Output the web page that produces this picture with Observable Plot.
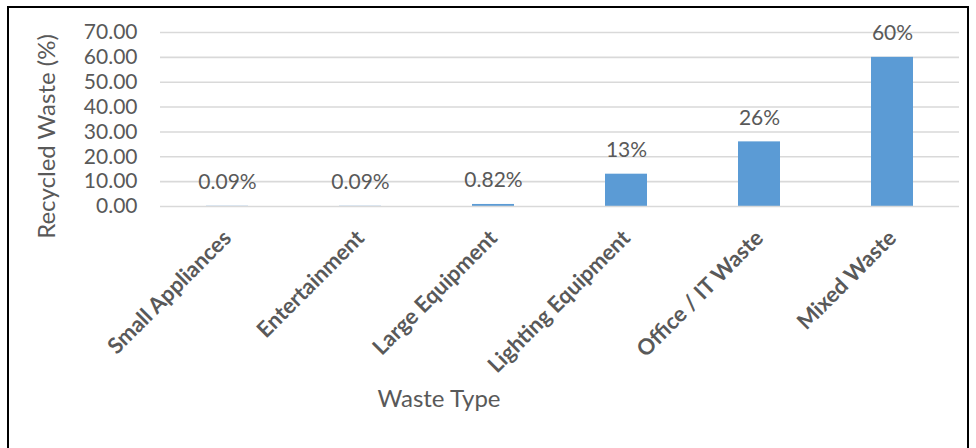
<!DOCTYPE html>
<html>
<head>
<meta charset="utf-8">
<script src="https://cdn.jsdelivr.net/npm/d3@7"></script>
<script src="https://cdn.jsdelivr.net/npm/@observablehq/plot@0.6"></script>
<style>
  html, body { margin: 0; padding: 0; background: #fff; }
  #wrap { position: relative; width: 976px; height: 448px; overflow: hidden; }
  #border {
    position: absolute; left: 7px; top: 6px; width: 958px; height: 460px;
    border: 2px solid #000; border-bottom: none; pointer-events: none;
  }
  #wrap svg { position: absolute; left: 0; top: 0; }
</style>
</head>
<body>
<div id="wrap"><div id="border"></div></div>
<script>
// Recycled share of each e-waste category
const categories = ["Small Appliances", "Entertainment", "Large Equipment", "Lighting Equipment", "Office / IT Waste", "Mixed Waste"];
const recycled = [0.09, 0.09, 0.82, 13, 26, 60];
const valueLabels = ["0.09%", "0.09%", "0.82%", "13%", "26%", "60%"];
const yTicks = [0, 10, 20, 30, 40, 50, 60, 70];
const xTitle = "Waste Type";
const yTitle = "Recycled Waste (%)";

const rows = categories.map((c, i) => ({category: c, value: recycled[i], label: valueLabels[i]}));
const grey = "#595959";

const chart = Plot.plot({
  width: 976,
  height: 448,
  marginLeft: 160,
  marginRight: 17,
  marginTop: 32,
  marginBottom: 242,
  style: {fontFamily: "Lato, sans-serif", background: "transparent"},
  x: {domain: categories, paddingInner: 0.685, paddingOuter: 0.3425, label: null},
  y: {domain: [0, 70], label: null},
  marks: [
    Plot.ruleY(yTicks.filter(d => d > 0), {stroke: "#d9d9d9", strokeWidth: 1.6}),
    Plot.barY(rows, {x: "category", y: "value", fill: "#5b9bd5"}),
    // category axis line sits over the bars
    Plot.ruleY([0], {stroke: "#d9d9d9", strokeWidth: 1.6}),
    Plot.text(rows, {x: "category", y: "value", text: "label", dy: -24, fill: grey, fontSize: 21}),
    Plot.axisY({ticks: yTicks, tickSize: 0, tickPadding: 23, tickFormat: d3.format(".2f"), fontSize: 21, fill: grey, label: null}),
    Plot.axisX({tickSize: 0, tickRotate: -45, tickPadding: 28, dx: 0, fontSize: 22, fontWeight: "bold", fill: grey, label: null}),
    Plot.text([yTitle], {frameAnchor: "left", rotate: -90, textAnchor: "middle", dx: -113, dy: 17, fontSize: 24, fill: grey}),
    Plot.text([xTitle], {frameAnchor: "bottom", dx: -121, dy: 200, fontSize: 24, fill: grey})
  ]
});
document.getElementById("wrap").prepend(chart);
</script>
</body>
</html>
